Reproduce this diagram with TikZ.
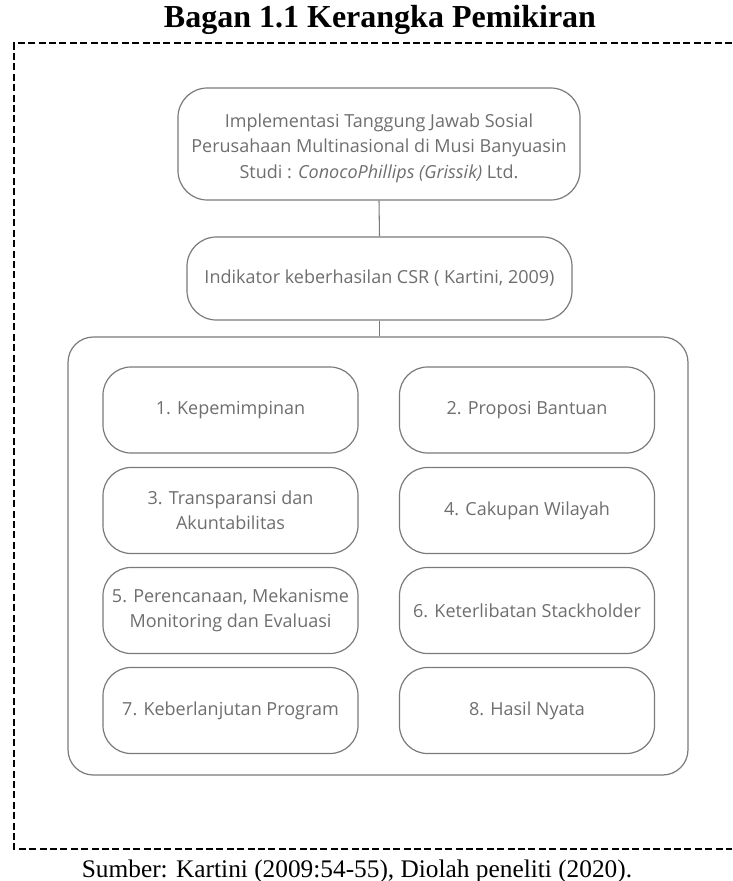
\documentclass[tikz,border=0pt]{standalone}
\usepackage{fontspec}
\setmainfont{Liberation Serif}
\newfontfamily\boxfont{Open Sans}
\definecolor{boxline}{HTML}{7A7A7A}
\definecolor{boxtext}{HTML}{6E6E6E}
\begin{document}
\begin{tikzpicture}[x=0.75pt,y=-0.75pt,
  rbox/.style={draw=boxline, line width=0.9pt, rounded corners=21pt, align=center,
    text=boxtext, font=\boxfont\fontsize{13.5}{19}\selectfont, inner sep=0pt},
  txt/.style={align=center, text=boxtext, font=\boxfont\fontsize{13.5}{19}\selectfont, inner sep=0pt},
  inner/.style={rbox, minimum width=191.25pt, minimum height=64.5pt},
  frame/.style={line width=1.6pt, dash pattern=on 5.2pt off 2.6pt},
  conn/.style={draw=boxline, line width=0.8pt}]
\useasboundingbox (0,0) rectangle (732,881);
\node[font=\bfseries\fontsize{24}{28}\selectfont, anchor=base] (title) at (380,28) {Bagan 1.1 Kerangka Pemikiran};
\draw[frame] (732,43) -- (14,43) -- (14,849) -- (732,849);
\node[rbox, minimum width=301.5pt, minimum height=84pt, rounded corners=22pt] (top) at (379,144) {};
\node[txt] (toptext) at (379,148)
  {Implementasi Tanggung Jawab Sosial\\Perusahaan Multinasional di Musi Banyuasin\\Studi : \textit{ConocoPhillips (Grissik)} Ltd.};
\node[rbox, minimum width=288.75pt, minimum height=62.25pt, rounded corners=22pt] (ind) at (379.5,278.5)
  {Indikator keberhasilan CSR ( Kartini, 2009)};
\node[rbox, minimum width=465pt, minimum height=328.5pt, rounded corners=19pt] (cont) at (378,556) {};
\node[inner] (b1) at (230.5,410) {1. Kepemimpinan};
\node[inner] (b2) at (527,410) {2. Proposi Bantuan};
\node[inner] (b3) at (230.5,510.5) {3. Transparansi dan\\Akuntabilitas};
\node[inner] (b4) at (527,510.5) {4. Cakupan Wilayah};
\node[inner] (b5) at (230.5,610.5) {5. Perencanaan, Mekanisme\\Monitoring dan Evaluasi};
\node[inner] (b6) at (527,610.5) {6. Keterlibatan Stackholder};
\node[inner] (b7) at (230.5,710.5) {7. Keberlanjutan Program};
\node[inner] (b8) at (527,710.5) {8. Hasil Nyata};
\draw[conn] (top.south) -- (ind.north);
\draw[conn] (ind.south) -- (ind.south |- cont.north);
\node[font=\fontsize{19}{22}\selectfont, anchor=base] (src) at (357,877) {Sumber: Kartini (2009:54-55), Diolah peneliti (2020).};
\end{tikzpicture}
\end{document}
